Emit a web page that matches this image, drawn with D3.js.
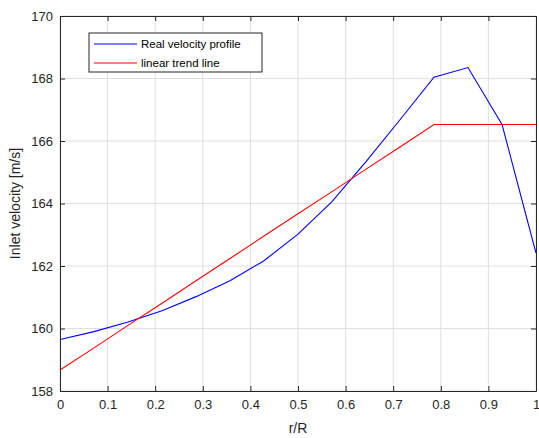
<!DOCTYPE html>
<html>
<head>
<meta charset="utf-8">
<script src="https://cdn.jsdelivr.net/npm/d3@7"></script>
<style>
  body { margin: 0; background: #fff; }
  text { font-family: "Liberation Sans", Arial, sans-serif; }
</style>
</head>
<body>
<div id="chart"></div>
<script>
// r/R sample positions
var rR = [0, 0.0714, 0.1429, 0.2143, 0.2857, 0.3571, 0.4286, 0.5, 0.5714, 0.6429, 0.7143, 0.7857, 0.8571, 0.9286, 1.0];
// measured velocity profile
var realVel = [159.65, 159.9, 160.21, 160.57, 161.02, 161.53, 162.17, 163.02, 164.06, 165.34, 166.68, 168.04, 168.35, 166.53, 162.41];
// linear trend, flat after 0.786
var trendVel = [158.67, 159.38, 160.1, 160.81, 161.53, 162.24, 162.96, 163.67, 164.38, 165.1, 165.81, 166.53, 166.53, 166.53, 166.53];

var xTicks = [0, 0.1, 0.2, 0.3, 0.4, 0.5, 0.6, 0.7, 0.8, 0.9, 1];
var yTicks = [158, 160, 162, 164, 166, 168, 170];
var seriesNames = ["Real velocity profile", "linear trend line"];
var seriesColors = ["#0000ff", "#ff0000"];

var W = 539, H = 438;
var margin = { top: 16, right: 3, bottom: 47, left: 60 };
var width = W - margin.left - margin.right;
var height = H - margin.top - margin.bottom;

var svg = d3.select("#chart").append("svg")
    .attr("width", W)
    .attr("height", H);

var g = svg.append("g")
    .attr("transform", "translate(" + margin.left + "," + margin.top + ")");

var x = d3.scaleLinear().domain([0, 1]).range([0, width]);
var y = d3.scaleLinear().domain([158, 170]).range([height, 0]);

// grid
g.append("g").selectAll("line").data(xTicks).enter().append("line")
    .attr("x1", function (d) { return x(d); })
    .attr("x2", function (d) { return x(d); })
    .attr("y1", 0).attr("y2", height)
    .style("stroke", "#dfdfdf").style("stroke-width", 1);
g.append("g").selectAll("line").data(yTicks).enter().append("line")
    .attr("y1", function (d) { return y(d); })
    .attr("y2", function (d) { return y(d); })
    .attr("x1", 0).attr("x2", width)
    .style("stroke", "#dfdfdf").style("stroke-width", 1);

// lines
var line = d3.line()
    .x(function (d) { return x(d[0]); })
    .y(function (d) { return y(d[1]); });

[realVel, trendVel].forEach(function (vals, i) {
    g.append("path")
        .datum(rR.map(function (r, j) { return [r, vals[j]]; }))
        .attr("d", line)
        .style("fill", "none")
        .style("stroke", seriesColors[i])
        .style("stroke-width", 1.1);
});

// axes (MATLAB style: ticks inward, box on)
function styleAxis(sel) {
    sel.select(".domain").style("stroke", "#262626");
    sel.selectAll(".tick line").style("stroke", "#262626");
    sel.selectAll(".tick text").style("fill", "#262626").style("font-size", "13px");
}

var xAxis = g.append("g")
    .attr("transform", "translate(0," + height + ")")
    .call(d3.axisBottom(x).tickValues(xTicks).tickSize(-5).tickSizeOuter(0)
        .tickFormat(function (d) { return d === 0 || d === 1 ? d3.format("d")(d) : d3.format(".1f")(d); }));
xAxis.selectAll(".tick text").attr("dy", "1.1em").attr("y", 4);
styleAxis(xAxis);

var yAxis = g.append("g")
    .call(d3.axisLeft(y).tickValues(yTicks).tickSize(-5).tickSizeOuter(0));
yAxis.selectAll(".tick text").attr("x", -7);
styleAxis(yAxis);

var xTop = g.append("g")
    .call(d3.axisTop(x).tickValues(xTicks).tickSize(-5).tickSizeOuter(0).tickFormat(""));
styleAxis(xTop);
var yRight = g.append("g")
    .attr("transform", "translate(" + width + ",0)")
    .call(d3.axisRight(y).tickValues(yTicks).tickSize(-5).tickSizeOuter(0).tickFormat(""));
styleAxis(yRight);

// axis labels
svg.append("text")
    .attr("x", margin.left + width / 2)
    .attr("y", 433)
    .attr("text-anchor", "middle")
    .style("font-size", "14px")
    .style("fill", "#262626")
    .text("r/R");

svg.append("text")
    .attr("transform", "translate(20," + (margin.top + height / 2) + ") rotate(-90)")
    .attr("text-anchor", "middle")
    .style("font-size", "14px")
    .style("fill", "#262626")
    .text("Inlet velocity [m/s]");

// legend
var legend = svg.append("g").attr("transform", "translate(89,33)");
legend.append("rect")
    .attr("width", 173).attr("height", 39)
    .style("fill", "#fff").style("stroke", "#262626").style("stroke-width", 1);
seriesNames.forEach(function (name, i) {
    var yy = 11 + i * 19;
    legend.append("line")
        .attr("x1", 5).attr("x2", 48)
        .attr("y1", yy).attr("y2", yy)
        .style("stroke", seriesColors[i]).style("stroke-width", 1.1);
    legend.append("text")
        .attr("x", 52).attr("y", yy + 4)
        .style("font-size", "11.5px")
        .style("fill", "#000")
        .text(name);
});
</script>
</body>
</html>
